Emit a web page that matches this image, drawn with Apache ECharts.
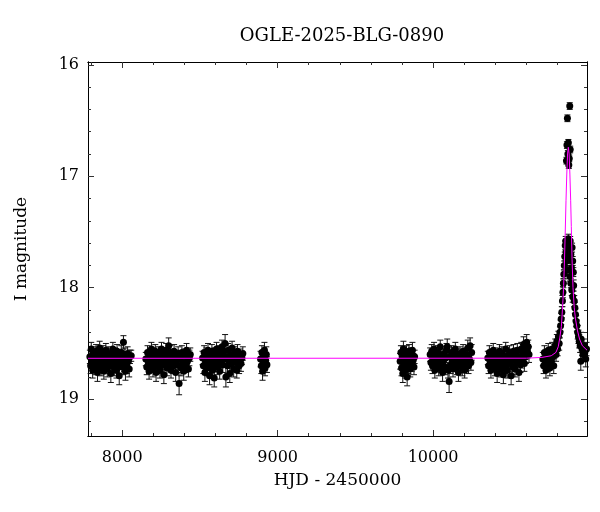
<!DOCTYPE html>
<html>
<head>
<meta charset="utf-8">
<script src="https://cdn.jsdelivr.net/npm/echarts@6.0.0/dist/echarts.min.js"></script>
<style>html,body{margin:0;padding:0;background:#fff}#c{width:600px;height:512px}</style>
</head>
<body>
<div id="c"></div>
<script>
// ---- data: [HJD-2450000, I mag, error] ----
const season1 = [[7792,18.62,.06],[7797,18.70,.07],[7801,18.55,.06],[7806,18.66,.06],[7810,18.74,.07],[7814,18.59,.06],[7819,18.68,.06],[7823,18.63,.07],[7828,18.71,.07],[7832,18.57,.06],[7837,18.65,.06],[7841,18.76,.08],[7846,18.60,.06],[7850,18.69,.07],[7855,18.54,.06],[7859,18.64,.06],[7864,18.72,.07],[7868,18.61,.06],[7873,18.67,.07],[7877,18.58,.06],[7882,18.75,.07],[7886,18.63,.06],[7891,18.69,.06],[7895,18.56,.06],[7900,18.66,.07],[7904,18.73,.07],[7909,18.62,.06],[7913,18.59,.06],[7918,18.70,.07],[7922,18.64,.06],[7927,18.77,.08],[7931,18.61,.06],[7936,18.68,.07],[7940,18.55,.06],[7945,18.65,.06],[7949,18.72,.07],[7954,18.60,.06],[7958,18.67,.06],[7963,18.74,.07],[7967,18.57,.06],[7972,18.63,.06],[7976,18.70,.07],[7981,18.79,.08],[7985,18.62,.06],[7990,18.66,.07],[7994,18.58,.06],[7999,18.71,.07],[8003,18.64,.06],[8008,18.49,.06],[8012,18.68,.07],[8017,18.60,.06],[8021,18.75,.08],[8026,18.65,.06],[8030,18.70,.07],[8035,18.59,.06],[8040,18.66,.06],[8045,18.73,.07],[8050,18.62,.06],[8058,18.61,.05]];
const season2 = [[8152,18.64,.06],[8158,18.71,.07],[8163,18.58,.06],[8168,18.67,.06],[8173,18.75,.07],[8178,18.61,.06],[8183,18.69,.07],[8188,18.55,.06],[8193,18.66,.06],[8198,18.73,.07],[8203,18.60,.06],[8208,18.68,.06],[8213,18.57,.06],[8218,18.76,.08],[8223,18.63,.06],[8228,18.70,.07],[8233,18.59,.06],[8238,18.66,.06],[8243,18.74,.07],[8248,18.62,.06],[8253,18.55,.06],[8258,18.69,.07],[8263,18.64,.06],[8268,18.78,.08],[8273,18.60,.06],[8278,18.67,.06],[8283,18.56,.06],[8288,18.72,.07],[8293,18.63,.06],[8299,18.52,.07],[8304,18.68,.06],[8309,18.58,.06],[8314,18.74,.07],[8319,18.65,.06],[8324,18.61,.06],[8329,18.70,.07],[8334,18.57,.06],[8339,18.66,.06],[8344,18.76,.08],[8349,18.62,.06],[8354,18.69,.07],[8360,18.59,.06],[8366,18.86,.10],[8372,18.64,.06],[8378,18.72,.07],[8384,18.58,.06],[8390,18.67,.06],[8396,18.75,.08],[8402,18.61,.06],[8408,18.69,.07],[8414,18.56,.06],[8420,18.66,.06],[8426,18.73,.07],[8432,18.63,.07],[8438,18.60,.06]];
const season3 = [[8517,18.63,.06],[8522,18.70,.07],[8527,18.58,.06],[8532,18.76,.08],[8537,18.65,.06],[8542,18.60,.06],[8547,18.72,.07],[8552,18.56,.06],[8557,18.67,.06],[8562,18.79,.08],[8567,18.62,.06],[8572,18.69,.07],[8577,18.57,.06],[8582,18.74,.07],[8587,18.64,.06],[8592,18.81,.08],[8597,18.60,.06],[8602,18.68,.07],[8607,18.55,.06],[8612,18.71,.07],[8617,18.63,.06],[8622,18.58,.06],[8627,18.75,.07],[8632,18.66,.06],[8637,18.61,.06],[8642,18.53,.06],[8647,18.69,.07],[8652,18.57,.06],[8657,18.64,.06],[8662,18.50,.08],[8667,18.80,.09],[8672,18.62,.06],[8677,18.70,.07],[8682,18.56,.06],[8687,18.66,.06],[8692,18.77,.08],[8697,18.60,.06],[8702,18.68,.07],[8707,18.54,.06],[8712,18.65,.06],[8717,18.73,.07],[8722,18.59,.06],[8727,18.67,.07],[8732,18.62,.06],[8737,18.74,.07],[8742,18.57,.06],[8747,18.66,.06],[8752,18.70,.07],[8758,18.61,.06],[8764,18.68,.07],[8770,18.63,.06],[8776,18.59,.06]];
const season4 = [[8890,18.64,.07],[8895,18.70,.07],[8899,18.58,.06],[8903,18.75,.08],[8907,18.62,.06],[8911,18.67,.07],[8915,18.56,.07],[8919,18.72,.07],[8923,18.65,.06],[8927,18.60,.07],[8931,18.69,.07]];
const season5 = [[9788,18.66,.07],[9793,18.58,.06],[9797,18.72,.07],[9801,18.62,.06],[9805,18.77,.08],[9809,18.55,.07],[9813,18.68,.06],[9817,18.61,.06],[9821,18.74,.07],[9825,18.64,.06],[9829,18.59,.07],[9833,18.80,.08],[9837,18.66,.06],[9841,18.70,.07],[9845,18.57,.06],[9849,18.63,.06],[9853,18.73,.07],[9857,18.60,.06],[9862,18.68,.07],[9867,18.56,.07],[9872,18.65,.06],[9877,18.71,.07],[9881,18.62,.06]];
const season6 = [[9981,18.60,.06],[9986,18.67,.07],[9991,18.57,.06],[9996,18.70,.07],[10001,18.63,.06],[10006,18.55,.06],[10011,18.74,.07],[10016,18.65,.06],[10021,18.60,.06],[10026,18.68,.07],[10031,18.58,.06],[10036,18.72,.07],[10041,18.64,.06],[10046,18.53,.06],[10051,18.69,.07],[10056,18.61,.06],[10061,18.76,.08],[10066,18.66,.06],[10071,18.59,.06],[10076,18.71,.07],[10081,18.63,.06],[10086,18.56,.06],[10091,18.53,.07],[10096,18.74,.07],[10103,18.84,.10],[10108,18.62,.06],[10113,18.70,.07],[10118,18.58,.06],[10123,18.66,.06],[10128,18.73,.07],[10133,18.60,.06],[10138,18.68,.07],[10143,18.55,.06],[10148,18.64,.06],[10153,18.71,.07],[10158,18.61,.06],[10163,18.76,.08],[10168,18.66,.06],[10173,18.59,.06],[10178,18.69,.07],[10183,18.63,.06],[10188,18.72,.07],[10193,18.57,.06],[10198,18.66,.06],[10203,18.74,.07],[10208,18.62,.06],[10213,18.68,.07],[10218,18.60,.06],[10223,18.54,.07],[10228,18.70,.07],[10233,18.64,.06],[10238,18.52,.07],[10243,18.67,.07],[10248,18.58,.07]];
const season7 = [[10352,18.63,.06],[10357,18.70,.07],[10362,18.58,.06],[10367,18.66,.06],[10372,18.74,.07],[10377,18.61,.06],[10382,18.68,.07],[10387,18.56,.06],[10392,18.65,.06],[10397,18.72,.07],[10402,18.60,.06],[10407,18.67,.06],[10412,18.77,.08],[10417,18.62,.06],[10422,18.69,.07],[10427,18.57,.06],[10432,18.64,.06],[10437,18.73,.07],[10442,18.59,.06],[10447,18.66,.06],[10452,18.78,.08],[10457,18.63,.06],[10462,18.70,.07],[10467,18.55,.06],[10472,18.65,.06],[10477,18.74,.07],[10482,18.61,.06],[10487,18.68,.07],[10492,18.58,.06],[10497,18.66,.06],[10502,18.79,.08],[10507,18.63,.06],[10512,18.71,.07],[10517,18.57,.06],[10522,18.65,.06],[10527,18.73,.07],[10532,18.60,.06],[10537,18.68,.07],[10542,18.56,.06],[10547,18.64,.06],[10552,18.76,.08],[10557,18.62,.06],[10562,18.69,.07],[10567,18.55,.06],[10572,18.66,.06],[10577,18.58,.07],[10582,18.51,.07],[10587,18.68,.07],[10592,18.54,.06],[10597,18.62,.06],[10602,18.49,.07],[10607,18.57,.06],[10612,18.53,.06],[10617,18.60,.07]];
const season8 = [[10706,18.64,.06],[10711,18.70,.07],[10716,18.58,.06],[10721,18.66,.06],[10726,18.74,.07],[10731,18.61,.06],[10736,18.68,.07],[10741,18.56,.06],[10746,18.63,.06],[10751,18.72,.07],[10756,18.59,.06],[10761,18.66,.06],[10766,18.55,.06],[10771,18.62,.06],[10776,18.70,.07],[10781,18.57,.06],[10786,18.52,.06],[10791,18.60,.06],[10796,18.48,.06],[10801,18.55,.06],[10806,18.44,.05],[10811,18.50,.06],[10816,18.40,.05],[10820,18.34,.05],[10824,18.28,.05],[10828,18.22,.05],[10832,18.12,.05],[10835,18.04,.05],[10838,17.96,.04],[10841,17.88,.04],[10844,17.80,.04],[10847,17.72,.04],[10850,17.62,.04],[10853,17.58,.04],[10856,17.68,.04],[10860,17.76,.04],[10863,17.84,.04],[10866,17.60,.04],[10858,16.86,.03],[10861,16.72,.03],[10864,16.48,.03],[10867,16.80,.03],[10870,16.70,.03],[10873,16.90,.03],[10876,16.84,.03],[10879,16.37,.03],[10882,16.76,.03],[10870,17.56,.04],[10874,17.66,.04],[10878,17.74,.04],[10882,17.58,.04],[10886,17.70,.04],[10890,17.82,.04],[10894,17.64,.04],[10898,17.76,.04],[10902,17.86,.04],[10880,17.90,.04],[10886,17.96,.04],[10892,18.02,.05],[10898,18.08,.05],[10904,17.98,.05],[10908,18.12,.05],[10912,18.18,.05],[10916,18.24,.05],[10920,18.30,.05],[10925,18.34,.05],[10930,18.40,.06],[10935,18.44,.06],[10940,18.48,.06],[10946,18.52,.06],[10950,18.66,.08],[10952,18.46,.06],[10958,18.55,.06],[10964,18.60,.06],[10970,18.52,.06],[10976,18.58,.07],[10982,18.64,.07],[10987,18.55,.06]];

// model curve
const modelT   = [7780, 10600, 10700, 10760, 10790, 10805, 10815, 10825, 10834, 10840, 10845, 10850, 10855, 10860, 10865, 10870, 10875, 10880, 10885, 10889, 10894, 10900, 10908, 10916, 10928, 10942, 10960, 10990];
const modelMag = [18.633, 18.632, 18.625, 18.61, 18.58, 18.53, 18.45, 18.35, 18.15, 17.98, 17.76, 17.50, 17.22, 16.98, 16.80, 16.74, 16.80, 16.98, 17.22, 17.45, 17.75, 18.00, 18.18, 18.28, 18.38, 18.46, 18.52, 18.56];

// axes
const xMin = 7780, xMax = 10990;
const yMin = 15.975, yMax = 19.33;
const xMajor = [8000, 9000, 10000];
const xMinor = [7800, 8200, 8400, 8600, 8800, 9200, 9400, 9600, 9800, 10200, 10400, 10600, 10800];
const yMajor = [16, 17, 18, 19];
const yMinor = [16.2, 16.4, 16.6, 16.8, 17.2, 17.4, 17.6, 17.8, 18.2, 18.4, 18.6, 18.8, 19.2];

const titleText = 'OGLE-2025-BLG-0890';
const xName = 'HJD - 2450000';
const yName = 'I magnitude';

const FONT = 'DejaVu Serif';
const points = [].concat(season1, season2, season3, season4, season5, season6, season7, season8);
const model = modelT.map((t, i) => [t, modelMag[i]]);

function mkX(pos, ticks, len, labels) {
  return {
    type: 'value', position: pos, min: xMin, max: xMax,
    axisLine: { show: true, onZero: false, lineStyle: { color: '#000', width: 1 } },
    axisTick: { show: true, inside: true, length: len, customValues: ticks, lineStyle: { color: '#333', width: 1 } },
    axisLabel: labels ? { show: true, customValues: ticks, formatter: v => String(v), color: '#000', fontFamily: FONT, fontSize: 16, margin: 14 } : { show: false },
    splitLine: { show: false }
  };
}
function mkY(pos, ticks, len, labels) {
  return {
    type: 'value', position: pos, min: yMin, max: yMax, inverse: true,
    axisLine: { show: true, onZero: false, lineStyle: { color: '#000', width: 1 } },
    axisTick: { show: true, inside: true, length: len, customValues: ticks, lineStyle: { color: '#333', width: 1 } },
    axisLabel: labels ? { show: true, customValues: ticks, formatter: v => String(v), color: '#000', fontFamily: FONT, fontSize: 16, margin: 9 } : { show: false },
    splitLine: { show: false }
  };
}

const xAxes = [mkX('bottom', xMajor, 6, true), mkX('bottom', xMinor, 3, false), mkX('top', xMajor, 6, false), mkX('top', xMinor, 3, false)];
Object.assign(xAxes[0], { name: xName, nameLocation: 'middle', nameGap: 36, nameTextStyle: { color: '#000', fontFamily: FONT, fontSize: 17 } });
const yAxes = [mkY('left', yMajor, 6, true), mkY('left', yMinor, 3, false), mkY('right', yMajor, 6, false), mkY('right', yMinor, 3, false)];
Object.assign(yAxes[0], { name: yName, nameLocation: 'middle', nameGap: 58, nameRotate: 90, nameTextStyle: { color: '#000', fontFamily: FONT, fontSize: 17 } });

const chart = echarts.init(document.getElementById('c'), null, { renderer: 'canvas' });
chart.setOption({
  animation: false,
  backgroundColor: '#fff',
  title: { text: titleText, left: 337, textAlign: 'center', top: 22, textStyle: { color: '#000', fontFamily: FONT, fontSize: 18, fontWeight: 'normal' } },
  grid: { left: 88, top: 62, width: 499, height: 374, containLabel: false },
  xAxis: xAxes,
  yAxis: yAxes,
  series: [
    {
      type: 'custom', xAxisIndex: 0, yAxisIndex: 0, z: 1, data: points,
      encode: { x: 0, y: 1 },
      renderItem: function (params, api) {
        const t = api.value(0), m = api.value(1), e = api.value(2);
        const a = api.coord([t, m - e]), b = api.coord([t, m + e]);
        const w = 3, st = { stroke: '#111', lineWidth: 1 };
        return { type: 'group', children: [
          { type: 'line', shape: { x1: a[0], y1: a[1], x2: b[0], y2: b[1] }, style: st },
          { type: 'line', shape: { x1: a[0] - w, y1: a[1], x2: a[0] + w, y2: a[1] }, style: st },
          { type: 'line', shape: { x1: b[0] - w, y1: b[1], x2: b[0] + w, y2: b[1] }, style: st }
        ] };
      }
    },
    {
      type: 'scatter', xAxisIndex: 0, yAxisIndex: 0, z: 2, symbol: 'circle', symbolSize: 7,
      itemStyle: { color: '#000', opacity: 1 }, data: points.map(p => [p[0], p[1]])
    },
    {
      type: 'line', xAxisIndex: 0, yAxisIndex: 0, z: 3, data: model, showSymbol: false, symbol: 'none',
      lineStyle: { color: '#ff00ff', width: 1 }, silent: true
    }
  ]
});
</script>
</body>
</html>
